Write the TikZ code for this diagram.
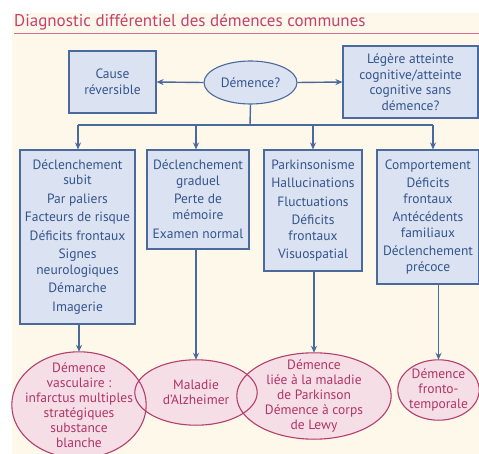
\documentclass[tikz,border=0pt]{standalone}
\usepackage{fontspec}
\setmainfont{PT Sans}
\usepackage{xcolor}
\usepackage{tikz}
\usetikzlibrary{shapes.geometric, arrows.meta, positioning, calc}
\definecolor{creambg}{RGB}{254, 248, 234}
\definecolor{titlerose}{RGB}{196, 64, 110}
\definecolor{ruleRose}{RGB}{214, 112, 146}
\definecolor{boxfill}{RGB}{219, 227, 242}
\definecolor{boxline}{RGB}{74, 105, 156}
\definecolor{boxtext}{RGB}{52, 84, 140}
\definecolor{ellfill}{RGB}{246, 222, 231}
\definecolor{ellline}{RGB}{180, 62, 108}
\definecolor{elltext}{RGB}{176, 52, 100}
\tikzset{
    infobox/.style={draw=boxline, fill=boxfill, line width=1.1pt, text=boxtext, align=center,
        inner sep=2pt, font=\fontsize{13.5}{15.5}\selectfont},
    diagell/.style={ellipse, fill=ellfill, text=elltext, align=center,
        inner sep=-20pt, font=\fontsize{13.5}{15}\selectfont},
    flow/.style={line width=1.4pt, boxline, -{Stealth[length=7pt, width=6pt]}},
    link/.style={line width=1.4pt, boxline}
}

\begin{document}
\begin{tikzpicture}[x=1pt, y=-1pt]
    \useasboundingbox (0,0) rectangle (479,454);
    \fill[creambg] (12,13) rectangle (479,454);

    % Title
    \node[anchor=west, text=titlerose, font=\fontsize{17}{19}\selectfont, inner sep=0pt] (title) at (14,22)
        {Diagnostic différentiel des démences communes};
    \draw[ruleRose, line width=0.8pt] (14,33) -- (479,33);

    % Top row
    \node[ellipse, draw=boxline, fill=boxfill, line width=1.1pt, text=boxtext, inner sep=0pt,
        minimum width=93pt, minimum height=43pt, font=\fontsize{13.5}{15}\selectfont] (dem) at (250.5,82.5) {Démence?};
    \node[infobox, minimum width=87pt, minimum height=62pt] (cause) at (112.5,82) {Cause\\réversible};
    \node[infobox, minimum width=135pt, minimum height=72pt] (legere) at (410.5,82)
        {Légère atteinte\\cognitive/atteinte\\cognitive sans\\démence?};
    \draw[flow] (dem.west) -- (cause.east);
    \draw[flow] (dem.east) -- (legere.west);

    % Split
    \coordinate (split) at (250,125);
    \foreach \name/\x in {s1/78, s2/196, s3/313, s4/433} {
        \coordinate (\name) at (\x,125);
    }
    \draw[link] (dem.south) -- (split);
    \draw[link] (s1) -- (s4);

    % Symptom boxes
    \node[infobox, minimum width=115pt, minimum height=174pt] (b1) at (77.5,237)
        {Déclenchement\\subit\\[3pt]Par paliers\\[3pt]Facteurs de risque\\[3pt]Déficits frontaux\\[3pt]Signes\\neurologiques\\[3pt]Démarche\\[3pt]Imagerie};
    \node[infobox, minimum width=102pt, minimum height=99pt] (b2) at (198,199.5)
        {Déclenchement\\graduel\\[3pt]Perte de\\mémoire\\[4pt]Examen normal};
    \node[infobox, minimum width=98pt, minimum height=121pt] (b3) at (313,210.5)
        {Parkinsonisme\\[3pt]Hallucinations\\[3pt]Fluctuations\\[3pt]Déficits\\frontaux\\[3pt]Visuospatial};
    \node[infobox, minimum width=102pt, minimum height=134pt] (b4) at (428,217)
        {Comportement\\[3pt]Déficits\\frontaux\\[3pt]Antécédents\\familiaux\\[3pt]Déclenchement\\précoce};
    \foreach \s/\b in {s1/b1, s2/b2, s3/b3, s4/b4} {
        \draw[flow] (\s) -- (\s |- \b.north);
    }

    % Diagnoses (fills first, outlines after so overlaps show both rims)
    \node[diagell, minimum width=134pt, minimum height=106pt] (e1) at (79,405)
        {Démence\\vasculaire :\\infarctus multiples\\stratégiques\\substance\\blanche};
    \node[diagell, minimum width=122pt, minimum height=65pt] (e2) at (196,392.5) {Maladie\\d’Alzheimer};
    \node[diagell, minimum width=154pt, minimum height=86pt] (e3) at (314,396)
        {Démence\\liée à la maladie\\de Parkinson\\Démence à corps\\de Lewy};
    \node[diagell, minimum width=81pt, minimum height=60pt] (e4) at (438.5,390) {Démence\\fronto-\\temporale};
    \foreach \e in {e1, e2, e3, e4} {
        \draw[ellline, line width=1.1pt] let \p1=($(\e.east)-(\e.center)$), \p2=($(\e.north)-(\e.center)$)
            in (\e.center) ellipse ({\x1} and {\y2});
    }
    \foreach \b/\e in {b1/e1, b2/e2, b3/e3, b4/e4} {
        \draw[flow] (\b.south -| \e.north) -- (\e.north);
    }
\end{tikzpicture}
\end{document}
